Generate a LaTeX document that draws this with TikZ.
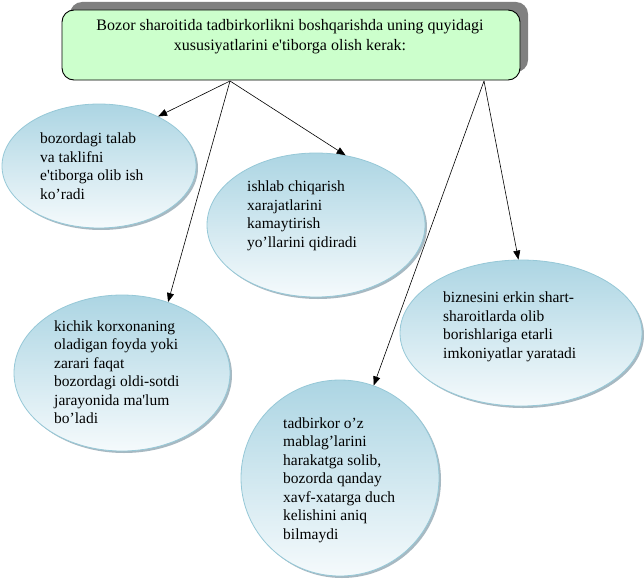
\documentclass[tikz,border=0pt]{standalone}
\usepackage{fontspec}
\setmainfont{Liberation Serif}
\usetikzlibrary{shapes.geometric,shadows,arrows.meta}
\definecolor{boxgreen}{RGB}{204,255,204}
\definecolor{shadowgray}{RGB}{128,128,128}
\definecolor{elltop}{RGB}{172,213,227}
\definecolor{ellbot}{RGB}{245,250,252}
\definecolor{elledge}{RGB}{150,200,215}
\definecolor{ellshadow}{RGB}{130,155,168}
\begin{document}
\begin{tikzpicture}[x=1pt,y=-1pt,
  bubble/.style={ellipse, draw=elledge, line width=0.8pt, top color=elltop, bottom color=ellbot, inner sep=0pt,
    drop shadow={shadow xshift=2pt, shadow yshift=-2pt, fill=ellshadow, opacity=0.7}},
  headbox/.style={draw=black, line width=0.9pt, fill=boxgreen, rounded corners=12pt, inner sep=0pt,
    drop shadow={shadow xshift=8pt, shadow yshift=8pt, fill=shadowgray, opacity=1}},
  txt/.style={align=left, font=\fontsize{15.5}{18.5}\selectfont, inner sep=0pt, anchor=west},
  arr/.style={-{Triangle[length=9pt,width=7pt]}, line width=0.6pt}]
\useasboundingbox (0,0) rectangle (644,578);

% header
\node (top) [headbox, minimum width=458pt, minimum height=70pt] at (291,45) {};
\node (toptext) [align=center, font=\fontsize{16}{20}\selectfont, inner sep=0pt] at (290,37)
  {Bozor sharoitida tadbirkorlikni boshqarishda uning quyidagi\\xususiyatlarini e\textquotesingle tiborga olish kerak:};

% ellipses
\node (e1) [bubble, minimum width=194pt, minimum height=124pt] at (99,166) {};
\node (e2) [bubble, minimum width=218pt, minimum height=144pt] at (316,225) {};
\node (e3) [bubble, minimum width=216pt, minimum height=156pt] at (122,373) {};
\node (e4) [bubble, minimum width=242pt, minimum height=146pt] at (521,333) {};
\node (e5) [bubble, minimum width=198pt, minimum height=196pt] at (340,478) {};

% texts
\node (t1) [txt] at (40,166) {bozordagi talab\\va taklifni\\e\textquotesingle tiborga olib ish\\ko’radi};
\node (t2) [txt] at (247,216) {ishlab chiqarish\\xarajatlarini\\kamaytirish\\yo’llarini qidiradi};
\node (t3) [txt] at (54,372) {kichik korxonaning\\oladigan foyda yoki\\zarari faqat\\bozordagi oldi-sotdi\\jarayonida ma\textquotesingle lum\\bo’ladi};
\node (t4) [txt] at (443,327) {biznesini erkin shart-\\sharoitlarda olib\\borishlariga etarli\\imkoniyatlar yaratadi};
\node (t5) [txt] at (283,480) {tadbirkor o’z\\mablag’larini\\harakatga solib,\\bozorda qanday\\xavf-xatarga duch\\kelishini aniq\\bilmaydi};

% connectors
\coordinate (s1) at (230,81);
\coordinate (s2) at (484,81);
\draw[arr] (s1) -- (e1.40);
\draw[arr] (s1) -- (e3.57);
\draw[arr] (s1) -- (e2.67);
\draw[arr] (s2) -- (e4.92);
\draw[arr] (s2) -- (e5.70);
\end{tikzpicture}
\end{document}
